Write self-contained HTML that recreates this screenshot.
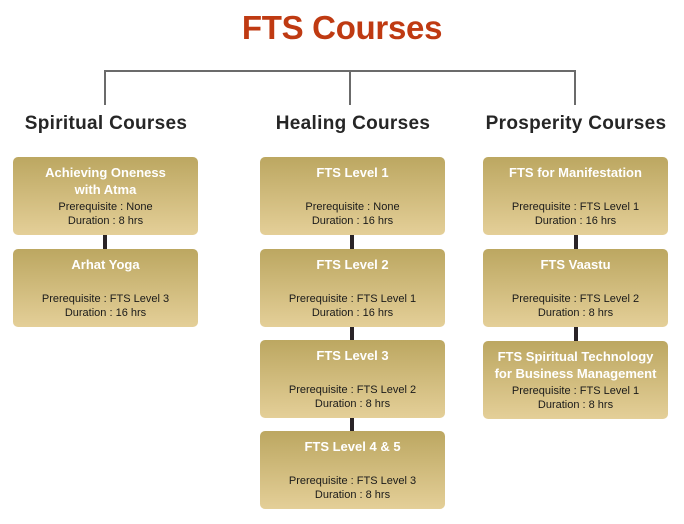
<!DOCTYPE html>
<html><head><meta charset="utf-8"><style>
body{margin:0;width:684px;height:524px;background:#fff;position:relative;overflow:hidden;font-family:"Liberation Sans",sans-serif}
.a{position:absolute}
.t{position:absolute;left:0;width:684px;top:9px;text-align:center;font-size:33px;font-weight:bold;color:#bf3a12;letter-spacing:-0.3px}
.h{position:absolute;font-size:19px;font-weight:bold;color:#262626;text-align:center;width:260px;letter-spacing:0.3px}
.b{position:absolute;border-radius:5px;background:linear-gradient(#bca761,#e4cf98);width:185px;height:78px}
.b div{position:absolute;left:0;right:0;text-align:center}
.n{color:#fff;font-weight:bold;font-size:13px;line-height:17px}
.p{color:#1a1a1a;font-size:11px;line-height:14px}
.v{position:absolute;width:4px;background:#2a2428}
</style></head><body>
<div class="t">FTS Courses</div>
<div class="a" style="left:104px;top:70px;width:472px;height:2px;background:#6b6b6b"></div>
<div class="a" style="left:104px;top:70px;width:2px;height:35px;background:#6b6b6b"></div>
<div class="a" style="left:349px;top:70px;width:2px;height:35px;background:#6b6b6b"></div>
<div class="a" style="left:574px;top:70px;width:2px;height:35px;background:#6b6b6b"></div>
<div class="h" style="left:-24px;top:113px">Spiritual Courses</div>
<div class="h" style="left:223px;top:113px">Healing Courses</div>
<div class="h" style="left:446px;top:113px">Prosperity Courses</div>

<div class="v" style="left:103px;top:235px;height:14px"></div>
<div class="v" style="left:350px;top:235px;height:14px"></div>
<div class="v" style="left:350px;top:327px;height:13px"></div>
<div class="v" style="left:350px;top:418px;height:13px"></div>
<div class="v" style="left:574px;top:235px;height:14px"></div>
<div class="v" style="left:574px;top:327px;height:14px"></div>

<div class="b" style="left:13px;top:157px"><div class="n" style="top:7px">Achieving Oneness<br>with Atma</div><div class="p" style="top:43px">Prerequisite : None<br>Duration : 8 hrs</div></div>
<div class="b" style="left:13px;top:249px"><div class="n" style="top:7px">Arhat Yoga</div><div class="p" style="top:43px">Prerequisite : FTS Level 3<br>Duration : 16 hrs</div></div>

<div class="b" style="left:260px;top:157px"><div class="n" style="top:7px">FTS Level 1</div><div class="p" style="top:43px">Prerequisite : None<br>Duration : 16 hrs</div></div>
<div class="b" style="left:260px;top:249px"><div class="n" style="top:7px">FTS Level 2</div><div class="p" style="top:43px">Prerequisite : FTS Level 1<br>Duration : 16 hrs</div></div>
<div class="b" style="left:260px;top:340px"><div class="n" style="top:7px">FTS Level 3</div><div class="p" style="top:43px">Prerequisite : FTS Level 2<br>Duration : 8 hrs</div></div>
<div class="b" style="left:260px;top:431px"><div class="n" style="top:7px">FTS Level 4 &amp; 5</div><div class="p" style="top:43px">Prerequisite : FTS Level 3<br>Duration : 8 hrs</div></div>

<div class="b" style="left:483px;top:157px"><div class="n" style="top:7px">FTS for Manifestation</div><div class="p" style="top:43px">Prerequisite : FTS Level 1<br>Duration : 16 hrs</div></div>
<div class="b" style="left:483px;top:249px"><div class="n" style="top:7px">FTS Vaastu</div><div class="p" style="top:43px">Prerequisite : FTS Level 2<br>Duration : 8 hrs</div></div>
<div class="b" style="left:483px;top:341px"><div class="n" style="top:7px">FTS Spiritual Technology<br>for Business Management</div><div class="p" style="top:43px">Prerequisite : FTS Level 1<br>Duration : 8 hrs</div></div>
</body></html>
